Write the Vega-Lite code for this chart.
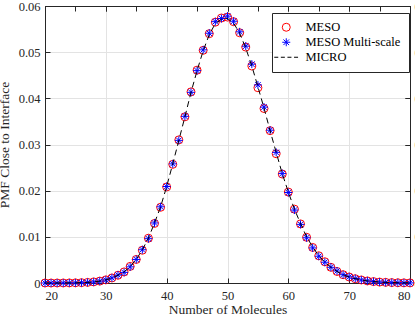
{
  "$schema": "https://vega.github.io/schema/vega-lite/v6.json",
  "width": 365,
  "height": 277,
  "autosize": {"type": "none"},
  "padding": {"left": 45, "top": 6, "right": 5, "bottom": 35},
  "background": "white",
  "config": {
    "view": {"stroke": "#262626", "strokeWidth": 1},
    "font": "Liberation Serif",
    "axis": {
      "domainColor": "#262626",
      "tickColor": "#262626",
      "labelColor": "#262626",
      "titleColor": "#262626",
      "labelFont": "Liberation Serif",
      "titleFont": "Liberation Serif",
      "labelFontSize": 12.5,
      "titleFontSize": 13.5,
      "titleFontWeight": "normal",
      "gridColor": "#e3e3e3",
      "tickSize": -5,
      "labelPadding": 9
    },
    "legend": {
      "labelFont": "Liberation Serif",
      "labelFontSize": 12.5,
      "labelColor": "#000000"
    }
  },
  "data": {
    "values": [
      {"n": 20, "MESO": 0.0000008, "MESO Multi-scale": 0.0000006, "MICRO": 0.0000007},
      {"n": 21, "MESO": 0.0000019, "MESO Multi-scale": 0.0000017, "MICRO": 0.0000018},
      {"n": 22, "MESO": 0.000004, "MESO Multi-scale": 0.0000042, "MICRO": 0.0000041},
      {"n": 23, "MESO": 0.000009, "MESO Multi-scale": 0.0000088, "MICRO": 0.0000089},
      {"n": 24, "MESO": 0.000019, "MESO Multi-scale": 0.000018, "MICRO": 0.0000185},
      {"n": 25, "MESO": 0.000038, "MESO Multi-scale": 0.000036, "MICRO": 0.000037},
      {"n": 26, "MESO": 0.000072, "MESO Multi-scale": 0.00007, "MICRO": 0.000071},
      {"n": 27, "MESO": 0.00013, "MESO Multi-scale": 0.000135, "MICRO": 0.000132},
      {"n": 28, "MESO": 0.00024, "MESO Multi-scale": 0.000233, "MICRO": 0.000236},
      {"n": 29, "MESO": 0.00041, "MESO Multi-scale": 0.000402, "MICRO": 0.000406},
      {"n": 30, "MESO": 0.00068, "MESO Multi-scale": 0.00067, "MICRO": 0.000677},
      {"n": 31, "MESO": 0.00109, "MESO Multi-scale": 0.00111, "MICRO": 0.00108},
      {"n": 32, "MESO": 0.00168, "MESO Multi-scale": 0.00172, "MICRO": 0.0017},
      {"n": 33, "MESO": 0.0024, "MESO Multi-scale": 0.0023, "MICRO": 0.0024},
      {"n": 34, "MESO": 0.0036, "MESO Multi-scale": 0.0035, "MICRO": 0.0036},
      {"n": 35, "MESO": 0.0051, "MESO Multi-scale": 0.0051, "MICRO": 0.0051},
      {"n": 36, "MESO": 0.0071, "MESO Multi-scale": 0.0072, "MICRO": 0.0072},
      {"n": 37, "MESO": 0.0097, "MESO Multi-scale": 0.0096, "MICRO": 0.0097},
      {"n": 38, "MESO": 0.0129, "MESO Multi-scale": 0.0130, "MICRO": 0.0130},
      {"n": 39, "MESO": 0.0164, "MESO Multi-scale": 0.0165, "MICRO": 0.0165},
      {"n": 40, "MESO": 0.0208, "MESO Multi-scale": 0.0209, "MICRO": 0.0209},
      {"n": 41, "MESO": 0.0257, "MESO Multi-scale": 0.0258, "MICRO": 0.0258},
      {"n": 42, "MESO": 0.0310, "MESO Multi-scale": 0.0309, "MICRO": 0.0309},
      {"n": 43, "MESO": 0.0360, "MESO Multi-scale": 0.0361, "MICRO": 0.0360},
      {"n": 44, "MESO": 0.0414, "MESO Multi-scale": 0.0413, "MICRO": 0.0413},
      {"n": 45, "MESO": 0.0461, "MESO Multi-scale": 0.0460, "MICRO": 0.0460},
      {"n": 46, "MESO": 0.0504, "MESO Multi-scale": 0.0505, "MICRO": 0.0503},
      {"n": 47, "MESO": 0.0540, "MESO Multi-scale": 0.0541, "MICRO": 0.0538},
      {"n": 48, "MESO": 0.0565, "MESO Multi-scale": 0.0566, "MICRO": 0.0562},
      {"n": 49, "MESO": 0.0574, "MESO Multi-scale": 0.0573, "MICRO": 0.0571},
      {"n": 50, "MESO": 0.0576, "MESO Multi-scale": 0.0578, "MICRO": 0.0573},
      {"n": 51, "MESO": 0.0566, "MESO Multi-scale": 0.0567, "MICRO": 0.0563},
      {"n": 52, "MESO": 0.0542, "MESO Multi-scale": 0.0544, "MICRO": 0.0541},
      {"n": 53, "MESO": 0.0511, "MESO Multi-scale": 0.0513, "MICRO": 0.0509},
      {"n": 54, "MESO": 0.0470, "MESO Multi-scale": 0.0474, "MICRO": 0.0470},
      {"n": 55, "MESO": 0.0423, "MESO Multi-scale": 0.0429, "MICRO": 0.0425},
      {"n": 56, "MESO": 0.0378, "MESO Multi-scale": 0.0381, "MICRO": 0.0379},
      {"n": 57, "MESO": 0.0330, "MESO Multi-scale": 0.0331, "MICRO": 0.0330},
      {"n": 58, "MESO": 0.0280, "MESO Multi-scale": 0.0283, "MICRO": 0.0283},
      {"n": 59, "MESO": 0.0236, "MESO Multi-scale": 0.0237, "MICRO": 0.0237},
      {"n": 60, "MESO": 0.0197, "MESO Multi-scale": 0.0196, "MICRO": 0.0197},
      {"n": 61, "MESO": 0.0160, "MESO Multi-scale": 0.0158, "MICRO": 0.0160},
      {"n": 62, "MESO": 0.0128, "MESO Multi-scale": 0.0127, "MICRO": 0.0129},
      {"n": 63, "MESO": 0.0099, "MESO Multi-scale": 0.0098, "MICRO": 0.0100},
      {"n": 64, "MESO": 0.0077, "MESO Multi-scale": 0.0076, "MICRO": 0.0078},
      {"n": 65, "MESO": 0.0059, "MESO Multi-scale": 0.0058, "MICRO": 0.0059},
      {"n": 66, "MESO": 0.0046, "MESO Multi-scale": 0.0045, "MICRO": 0.0045},
      {"n": 67, "MESO": 0.0034, "MESO Multi-scale": 0.0034, "MICRO": 0.0034},
      {"n": 68, "MESO": 0.0025, "MESO Multi-scale": 0.0026, "MICRO": 0.0025},
      {"n": 69, "MESO": 0.0018, "MESO Multi-scale": 0.0018, "MICRO": 0.0018},
      {"n": 70, "MESO": 0.0013, "MESO Multi-scale": 0.00135, "MICRO": 0.0013},
      {"n": 71, "MESO": 0.00093, "MESO Multi-scale": 0.00096, "MICRO": 0.00094},
      {"n": 72, "MESO": 0.00066, "MESO Multi-scale": 0.00065, "MICRO": 0.00066},
      {"n": 73, "MESO": 0.00045, "MESO Multi-scale": 0.00046, "MICRO": 0.00045},
      {"n": 74, "MESO": 0.00031, "MESO Multi-scale": 0.0003, "MICRO": 0.00031},
      {"n": 75, "MESO": 0.0002, "MESO Multi-scale": 0.00021, "MICRO": 0.00021},
      {"n": 76, "MESO": 0.00014, "MESO Multi-scale": 0.00013, "MICRO": 0.00014},
      {"n": 77, "MESO": 0.00009, "MESO Multi-scale": 0.000085, "MICRO": 0.000088},
      {"n": 78, "MESO": 0.000055, "MESO Multi-scale": 0.000058, "MICRO": 0.000056},
      {"n": 79, "MESO": 0.000036, "MESO Multi-scale": 0.000035, "MICRO": 0.000036},
      {"n": 80, "MESO": 0.000022, "MESO Multi-scale": 0.000023, "MICRO": 0.000022}
    ]
  },
  "transform": [
    {"fold": ["MESO", "MESO Multi-scale", "MICRO"], "as": ["series", "pmf"]}
  ],
  "layer": [
    {
      "transform": [{"filter": "datum.series !== 'MICRO'"}],
      "mark": {"type": "point", "filled": false, "strokeWidth": 1, "size": 64, "opacity": 1, "clip": false},
      "encoding": {
        "x": {
          "field": "n", "type": "quantitative",
          "scale": {"domain": [20, 80], "nice": false, "zero": false},
          "axis": {"values": [20, 30, 40, 50, 60, 70, 80], "title": "Number of Molecules", "titlePadding": 1, "labelPadding": 11, "grid": true}
        },
        "y": {
          "field": "pmf", "type": "quantitative",
          "scale": {"domain": [0, 0.06], "nice": false},
          "axis": {"values": [0, 0.01, 0.02, 0.03, 0.04, 0.05, 0.06], "format": ".2~f", "title": "PMF Close to Interface", "titlePadding": 7, "labelPadding": 10, "grid": true}
        },
        "color": {
          "field": "series", "type": "nominal",
          "scale": {"domain": ["MESO", "MESO Multi-scale", "MICRO"], "range": ["#ff0000", "#0000ff", "#000000"]},
          "legend": {
            "title": null,
            "orient": "none",
            "legendX": 227,
            "legendY": 7,
            "padding": 8,
            "strokeColor": "#262626",
            "fillColor": "white",
            "symbolSize": 64,
            "symbolStrokeWidth": 1,
            "labelOffset": 13,
            "rowPadding": 2
          }
        },
        "shape": {
          "field": "series", "type": "nominal",
          "scale": {"domain": ["MESO", "MESO Multi-scale", "MICRO"], "range": ["circle", "M0,-1L0,1M-1,0L1,0M-0.7,-0.7L0.7,0.7M-0.7,0.7L0.7,-0.7", "M-3,0L-2,0M-1.35,0L-0.35,0M0.3,0L1.3,0M1.95,0L2.95,0"]}
        },
        "order": {"field": "series", "type": "nominal", "sort": "ascending"}
      }
    },
    {
      "transform": [{"filter": "datum.series === 'MICRO'"}],
      "mark": {"type": "line", "color": "#000000", "strokeWidth": 1, "strokeDash": [6, 4]},
      "encoding": {
        "x": {"field": "n", "type": "quantitative"},
        "y": {"field": "pmf", "type": "quantitative"}
      }
    },
    {
      "transform": [{"filter": "datum.series === 'MICRO'"}],
      "mark": {"type": "point", "opacity": 0},
      "encoding": {
        "x": {"field": "n", "type": "quantitative", "axis": {"orient": "top", "values": [20, 30, 40, 50, 60, 70, 80], "labels": false, "title": null, "grid": false}},
        "y": {"field": "pmf", "type": "quantitative", "axis": {"orient": "right", "values": [0, 0.01, 0.02, 0.03, 0.04, 0.05, 0.06], "labels": false, "title": null, "grid": false}}
      }
    }
  ],
  "resolve": {"axis": {"x": "independent", "y": "independent"}}
}
